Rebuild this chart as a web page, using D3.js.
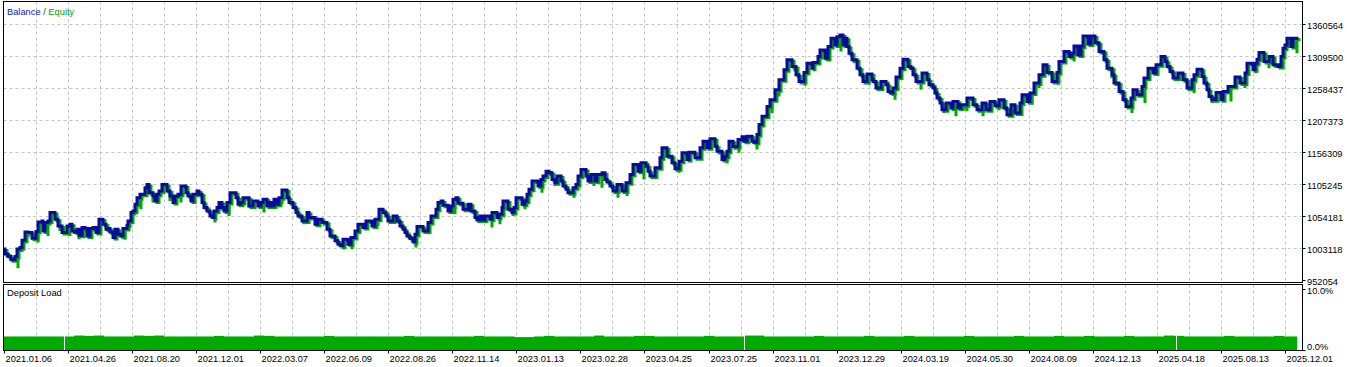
<!DOCTYPE html>
<html><head><meta charset="utf-8">
<script src="https://cdn.jsdelivr.net/npm/d3@7/dist/d3.min.js"></script>
<style>
html,body{margin:0;padding:0;background:#fff;overflow:hidden}
svg{display:block}
text{font-family:"Liberation Sans",Arial,sans-serif;font-size:9.3px}
</style></head><body>
<svg id="c" width="1347" height="367"></svg>
<script>
// ---------- DATA ----------
// balance curve: deal number and balance value
const balanceDeals = [0,1,4,7,11,13,16,18,21,24,28,32,34,38,39,41,44,46,51,54,58,63,66,68,71,73,75,78,81,83,86,89,92,95,99,102,104,106,109,111,114,117,119,123,124,127,129,131,133,136,141,143,145,149,151,153,155,158,163,166,169,171,174,177,182,184,187,189,193,195,198,200,203,206,209,210,213,215,218,220,223,226,232,234,237,239,245,249,254,257,259,263,265,268,270,273,275,278,283,285,289,292,294,298,303,305,311,314,
318,323,326,331,334,337,339,344,347,351,354,359,362,368,371,375,379,382,384,389,393,396,399,401,403,406,409,411,413,419,424,427,432,434,437,439,444,447,449,452,454,459,464,467,471,473,476,479,481,486,488,493,495,498,499,504,508,510,512,518,521,523,525,528,534,537,539,542,545,548,551,553,557,559,562,564,569,572,574,577,582,584,587,591,593,598,601,603,606,609,613,618,622,626,629,634,637,642,644,
646,651,656,658,663,668,671,675,678,683,685,691,696,699,703,706,711,713,718,721,723,725,729,734,738,740,743,748,750,753,755,758,763,766,771,775,780,783,788,792,795,800,803,808,809,814,816,821,824,827,831,833,836,839,841,843,845,848,853,856,859,863,868,869,872,877,882,884,887,889,892,896,899,904,907,909,912,918,923,925,929,931,933,936,938,942,947,949,954,957,
960,963,969,973,978,982,986,991,995,1000,1003,1007,1011,1016,1018,1023,1026,1030,1035,1039,1043,1048,1053,1055,1060,1065,1068,1070,1074,1077,1079,1084,1087,1091,1095,1100,1103,1108,1110,1115,1119,1122,1127,1129,1133,1138,1140,1144,1149,1152,1157,1161,1163,1166,1169,1174,1179,1183,1188,1190,1193,1198,1200,1203,1205,1208,1212,1217,1219,1224,1231,1236,1241,1243,1249,1251,1253,1255,1260,1265,1269,1274,1277,1279,1281,1283,1287,1289,1293];
const balanceValues = [1002123,994176,990520,985116,990520,1002123,1004825,1016429,1029622,1028668,1019608,1030257,1045517,1047106,1031211,1044563,1047106,1060458,1049808,1039159,1028668,1039159,1041861,1031211,1029622,1033913,1024376,1036615,1035026,1023264,1035026,1036615,1028668,1049808,1041861,1033913,1035026,1029622,1020720,1033913,1025966,1023264,1035026,1040271,1047106,1060458,1063001,1073651,1084300,1089546,1100195,1105441,1092248,1086844,1078896,1089546,1094791,1105441,1094791,1086844,1076352,1086844,1089546,1102739,1092248,1086844,1078896,1089546,1094791,1089546,1076352,1068405,1063001,1055054,1052510,1063001,1068405,1076352,1068405,1063001,1076352,1092248,1084300,1073651,1076352,1084300,1070949,1078896,1070949,1076352,1081598,1070949,1076352,1070949,1081598,1073651,1084300,1096381,1084300,1076352,1068405,1060458,1055054,1047106,1060458,1052510,1041861,1049808,
1044563,1033913,1023264,1015316,1010071,1007369,1018018,1010071,1020720,1031211,1041861,1036615,1047106,1039159,1049808,1065706,1060458,1055054,1047106,1055054,1047106,1039159,1033913,1028668,1023264,1019131,1013727,1025966,1038205,1031211,1044563,1055054,1065706,1076352,1078896,1072061,1063001,1070949,1081598,1084300,1075240,1065706,1073651,1063001,1052510,1048696,1055054,1048696,1055054,1049808,1060458,1052510,1057756,1068405,1078896,1065706,1060458,1068405,1084300,1073651,1078896,1089546,1097493,1110686,1102739,1113388,1118634,1126581,1124038,1113388,1108143,1118634,1110686,1102739,1097493,1092248,1100195,1105441,1118634,1129283,1118634,1110686,1121336,1110686,1121336,1124038,1113388,1109097,1102739,1094791,1105441,1094791,1108143,1121336,1137231,1126581,1139933,1134528,1126581,
1118634,1131985,1147880,1163775,1150424,1139933,1130396,1142476,1155828,1145178,1156782,1147880,1163775,1174266,1163775,1178081,1166318,1158371,1145178,1150424,1158371,1174266,1165365,1176968,1181260,1174266,1182214,1174266,1172677,1184916,1200811,1214004,1229899,1240548,1256443,1272338,1288233,1304128,1293479,1280286,1269636,1283942,1298882,1290935,1299836,1309374,1320023,1306830,1325269,1338620,1327971,1341164,1343866,1327971,1338620,1325269,1314778,1304128,1290935,1280286,1269636,1281399,1272338,1269636,1259146,1269636,1264391,1253742,1251199,1259146,1276630,1290935,1305241,1293479,1290935,1280286,1269636,1282988,1272338,1264391,1259146,1251199,1243250,1235303,1224653,1235303,1227355,1237846,1227355,1232601,
1232601,1243250,1232601,1224653,1235303,1224653,1237846,1231011,1240548,1227355,1216706,1232601,1219408,1235303,1248496,1237846,1251199,1267093,1280286,1296181,1283942,1269636,1283942,1301426,1317321,1309374,1314778,1326381,1312076,1326381,1342277,1329560,1342277,1331627,1317321,1304128,1290935,1280286,1267093,1253742,1240548,1229899,1243250,1256443,1248496,1261691,1275041,1290935,1282988,1296181,1309374,1301426,1293479,1285531,1275041,1282988,1272338,1259146,1272338,1280286,1289346,1277584,1267093,1256443,1245794,1240548,1252152,1240548,1253742,1261691,1276630,1267093,1282988,1298882,1288233,1298882,1305241,1315731,1301426,1309374,1296181,1293479,1309374,1322726,1327971,1338620,1325269,1338620,1341164];

// equity drawdown lows (deal number, equity value)
const equityDipDeals  = [12,22,32,42,54,64,73,83,92,106,119,135,147,164,175,185,209,223,243,258,276,298,311,338,346,353,372,391,410,422,449,459,486,494,507,519,536,549,568,588,596,612,621,638,649,673,693,714,721,733,751,766,773,789,799,823,835,849,863,889,915,938,950,958,961,977,993,1014,1026,1033,1052,1068,1106,1126,1139,1188,1206,1225,1239,1250,1263,1277,1291];
const equityDipValues = [971446,1020720,1012773,1023264,1031211,1023264,1018018,1020720,1025966,1025966,1016905,1065706,1076352,1078896,1076352,1078896,1044563,1055054,1068405,1060458,1073651,1041861,1039159,1001423,1002123,1025966,1039159,1044563,1004825,1025966,1057756,1063001,1036615,1041861,1055054,1065706,1092248,1102739,1084300,1102739,1100195,1084300,1086844,1113388,1114503,1124038,1145178,1153126,1138820,1155828,1161073,1219408,1245794,1285531,1262801,1301426,1317321,1298882,1264391,1240548,1256443,1219408,1214004,1224653,1221953,1214004,1223543,1216706,1232601,1259146,1264391,1301426,1275041,1219408,1235303,1251199,1235303,1237846,1259146,1282988,1290935,1290935,1314778];

// deposit load (%), one value per block of 10 deals
const loadBlock = 10;
const loadValues = [2.2,2.2,2.2,2.2,2.2,2.2,2.2,2.35,2.3,2.35,
  2.2,2.2,2.2,2.35,2.3,2.35,2.2,2.2,2.2,2.2,
  2.2,2.3,2.2,2.2,2.2,2.35,2.3,2.2,2.2,2.2,
  2.2,2.2,2.3,2.2,2.2,2.2,2.2,2.2,2.2,2.2,
  2.3,2.2,2.2,2.2,2.2,2.2,2.2,2.3,2.2,2.2,
  2.2,2.1,2.1,2.2,2.3,2.2,2.2,2.2,2.2,2.35,
  2.2,2.2,2.2,2.3,2.3,2.2,2.2,2.2,2.2,2.2,
  2.3,2.2,2.2,2.2,2.35,2.35,2.2,2.2,2.2,2.2,
  2.2,2.3,2.2,2.2,2.2,2.2,2.3,2.2,2.2,2.2,
  2.3,2.2,2.2,2.2,2.2,2.2,2.3,2.2,2.2,2.2,
  2.2,2.3,2.2,2.2,2.2,2.3,2.2,2.2,2.3,2.2,
  2.2,2.2,2.3,2.2,2.2,2.2,2.35,2.3,2.2,2.2,
  2.2,2.2,2.3,2.2,2.2,2.2,2.2,2.3,2.2,2.2];
const loadGapDeals = [60,740,1172];
const lastDeal = 1293;

// axes
const dateLabels = ["2021.01.06","2021.04.26","2021.08.20","2021.12.01","2022.03.07","2022.06.09","2022.08.26","2022.11.14","2023.01.13","2023.02.28","2023.04.25","2023.07.25","2023.11.01","2023.12.29","2024.03.19","2024.05.30","2024.08.09","2024.12.13","2025.04.18","2025.08.13","2025.12.01"];
const dateTickDeals = [0,64,128,192,256,320,384,448,512,576,640,705,769,833,897,961,1025,1089,1153,1217,1281];
const yTicks = [952054,1003118,1054181,1105245,1156309,1207373,1258437,1309500,1360564];
const loadTicks = [0,10];

// ---------- DRAW ----------
const svg = d3.select("#c");
const x = d3.scaleLinear().domain([0,1281]).range([4,1285]);
const y = d3.scaleLinear().domain([952054,1360564]).range([280.5,24.5]);
const yl = d3.scaleLinear().domain([0,10]).range([350,288.5]);

const L = 3.5, R = 1302.5, mainTop = 1.5, mainBot = 282.5, subTop = 284.5, subBot = 350.5;
const gridColor = "#c3c3c3";

// vertical grid (ticks and midpoints)
const vGrid = [];
dateTickDeals.forEach((d,i)=>{ if(i>0) vGrid.push(d); if(i<dateTickDeals.length-1) vGrid.push((d+dateTickDeals[i+1])/2); });
const g = svg.append("g");
vGrid.forEach(d=>{
  const xx = Math.round(x(d))+0.5;
  g.append("line").attr("x1",xx).attr("x2",xx).attr("y1",mainTop).attr("y2",mainBot)
    .attr("stroke",gridColor).attr("stroke-dasharray","3,3");
  g.append("line").attr("x1",xx).attr("x2",xx).attr("y1",subTop).attr("y2",subBot)
    .attr("stroke",gridColor).attr("stroke-dasharray","3,3");
});
yTicks.slice(1).forEach(v=>{
  const yy = Math.round(y(v)-0.5)+0.5;
  g.append("line").attr("x1",L).attr("x2",R).attr("y1",yy).attr("y2",yy)
    .attr("stroke",gridColor).attr("stroke-dasharray","3,3");
});

// clip for main chart
svg.append("clipPath").attr("id","mc").append("rect").attr("x",L).attr("y",mainTop).attr("width",R-L).attr("height",mainBot-mainTop);

const pts = balanceDeals.map((d,i)=>[d,balanceValues[i]]);
const line = d3.line().x(p=>x(p[0])).y(p=>y(p[1])).curve(d3.curveStepAfter);
const plot = svg.append("g").attr("clip-path","url(#mc)");

// equity (green)
const eqColor = "#00a800";
plot.append("path").attr("d",line(pts)).attr("fill","none").attr("stroke",eqColor)
  .attr("stroke-width",3).attr("transform","translate(2,1.5)");
const balAt = d => balanceValues[Math.max(0,d3.bisectRight(balanceDeals,d)-1)];
equityDipDeals.forEach((d,i)=>{
  plot.append("line").attr("x1",x(d)+2).attr("x2",x(d)+2)
    .attr("y1",y(balAt(d))).attr("y2",y(equityDipValues[i]))
    .attr("stroke",eqColor).attr("stroke-width",3);
});
// balance (blue)
plot.append("path").attr("d",line(pts)).attr("fill","none").attr("stroke","#0a0a9e")
  .attr("stroke-width",3);

// deposit load bars
const sub = svg.append("g");
loadValues.forEach((v,i)=>{
  const d0 = i*loadBlock, d1 = Math.min((i+1)*loadBlock, lastDeal);
  if(d1<=d0) return;
  sub.append("rect").attr("x",x(d0)).attr("width",x(d1)-x(d0)+0.3)
    .attr("y",yl(v)).attr("height",yl(0)-yl(v)).attr("fill","#00aa00");
});
loadGapDeals.forEach(d=>{
  sub.append("rect").attr("x",Math.round(x(d))).attr("width",1).attr("y",yl(3)).attr("height",yl(0)-yl(3)).attr("fill","#fff");
});

// frames
const fr = svg.append("g").attr("fill","none").attr("stroke","#000").attr("stroke-width",1);
fr.append("rect").attr("x",L).attr("y",mainTop).attr("width",R-L).attr("height",mainBot-mainTop);
fr.append("rect").attr("x",L).attr("y",subTop).attr("width",R-L).attr("height",subBot-subTop);

// right axis ticks + labels
yTicks.forEach(v=>{
  const yy = Math.round(y(v)-0.5)+0.5;
  svg.append("line").attr("x1",R).attr("x2",R+3).attr("y1",yy).attr("y2",yy).attr("stroke","#000");
  svg.append("text").attr("x",1307).attr("y",yy+4).attr("fill","#000").text(v);
});
loadTicks.forEach(v=>{
  const yy = Math.round(yl(v))+0.5;
  svg.append("line").attr("x1",R).attr("x2",R+3).attr("y1",yy).attr("y2",yy).attr("stroke","#000");
  svg.append("text").attr("x",1307).attr("y",v===0 ? yy-0.5 : yy+4).attr("fill","#000").text(v.toFixed(1)+"%");
});

// bottom date axis
dateTickDeals.forEach((d,i)=>{
  const xx = Math.round(x(d))+0.5;
  svg.append("line").attr("x1",xx).attr("x2",xx).attr("y1",subBot).attr("y2",subBot+3).attr("stroke","#000");
  svg.append("text").attr("x",xx+1).attr("y",361.5).attr("fill","#000").text(dateLabels[i]);
});

// titles
const t = svg.append("text").attr("x",7).attr("y",15);
t.append("tspan").attr("fill","#1414c8").text("Balance");
t.append("tspan").attr("fill","#333").text(" / ");
t.append("tspan").attr("fill","#00a000").text("Equity");
svg.append("text").attr("x",7).attr("y",295.5).attr("fill","#000").text("Deposit Load");
</script>
</body></html>
